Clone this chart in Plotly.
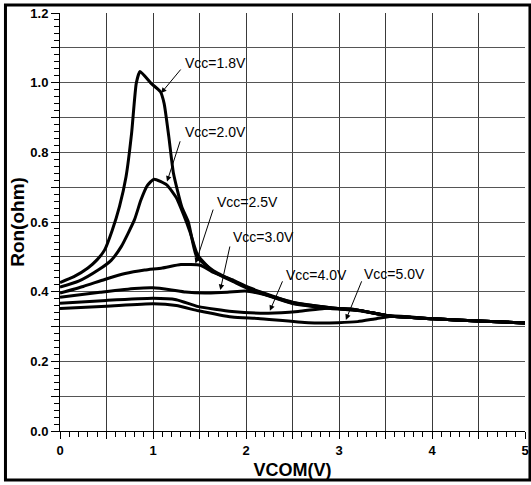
import plotly.graph_objects as go

# ---- data ----
v18_x = [0, 0.15, 0.3, 0.4, 0.48, 0.56, 0.64, 0.71, 0.77, 0.82, 0.86, 0.98, 1.08, 1.12, 1.17, 1.22, 1.31, 1.38, 1.47, 1.65, 1.87, 2.03, 2.5, 2.91, 3.2, 3.55, 4.02, 4.5, 5.0]
v18_y = [0.426, 0.443, 0.468, 0.492, 0.52, 0.575, 0.645, 0.73, 0.855, 0.998, 1.032, 0.998, 0.974, 0.94, 0.845, 0.74, 0.643, 0.60, 0.50, 0.46, 0.43, 0.41, 0.367, 0.353, 0.347, 0.33, 0.322, 0.316, 0.31]

v20_x = [0, 0.2, 0.41, 0.55, 0.66, 0.8, 0.87, 0.94, 1.01, 1.15, 1.25, 1.33, 1.40, 1.48, 1.65, 1.87, 2.03, 2.5, 2.91, 3.2, 3.55, 4.02, 4.5, 5.0]
v20_y = [0.413, 0.43, 0.462, 0.49, 0.53, 0.606, 0.663, 0.705, 0.723, 0.706, 0.67, 0.62, 0.57, 0.505, 0.457, 0.428, 0.408, 0.366, 0.352, 0.346, 0.33, 0.322, 0.316, 0.31]

v25_x = [0, 0.25, 0.48, 0.7, 0.91, 1.1, 1.30, 1.51, 1.65, 1.87, 2.03, 2.5, 2.91, 3.2, 3.55, 4.02, 4.5, 5.0]
v25_y = [0.396, 0.415, 0.435, 0.452, 0.462, 0.468, 0.478, 0.476, 0.455, 0.432, 0.412, 0.369, 0.354, 0.347, 0.33, 0.322, 0.316, 0.31]

v30_x = [0, 0.43, 0.8, 1.0, 1.2, 1.35, 1.56, 1.8, 1.99, 2.2, 2.5, 2.91, 3.2, 3.55, 4.02, 4.5, 5.0]
v30_y = [0.384, 0.398, 0.409, 0.411, 0.405, 0.399, 0.396, 0.398, 0.402, 0.392, 0.37, 0.354, 0.347, 0.33, 0.322, 0.316, 0.31]

v40_x = [0, 0.5, 1.0, 1.25, 1.49, 1.85, 2.24, 2.56, 2.84, 3.0, 3.12, 3.35, 3.55, 4.02, 4.5, 5.0]
v40_y = [0.367, 0.375, 0.381, 0.377, 0.357, 0.343, 0.338, 0.343, 0.352, 0.352, 0.351, 0.34, 0.33, 0.322, 0.316, 0.31]

v50_x = [0, 0.5, 1.0, 1.25, 1.49, 1.85, 2.13, 2.67, 2.99, 3.2, 3.41, 3.6, 4.02, 4.5, 5.0]
v50_y = [0.352, 0.358, 0.365, 0.36, 0.345, 0.327, 0.323, 0.311, 0.311, 0.314, 0.323, 0.33, 0.322, 0.316, 0.31]

series_names = ["Vcc=1.8V", "Vcc=2.0V", "Vcc=2.5V", "Vcc=3.0V", "Vcc=4.0V", "Vcc=5.0V"]
series_x = [v18_x, v20_x, v25_x, v30_x, v40_x, v50_x]
series_y = [v18_y, v20_y, v25_y, v30_y, v40_y, v50_y]

# label positions (text left/center) and arrow tail/head (data units)
label_pos = [(1.32, 1.056), (1.32, 0.859), (1.663, 0.658), (1.837, 0.556), (2.409, 0.448), (3.25, 0.450)]
arrow_tail = [(1.311, 1.042), (1.297, 0.836), (1.652, 0.640), (1.83, 0.534), (2.399, 0.434), (3.25, 0.434)]
arrow_head = [(1.087, 0.970), (1.151, 0.716), (1.457, 0.481), (1.724, 0.405), (2.257, 0.345), (3.074, 0.319)]

x_tick_vals = [0, 0.5, 1, 1.5, 2, 2.5, 3, 3.5, 4, 4.5, 5]
x_tick_text = ["0", "", "1", "", "2", "", "3", "", "4", "", "5"]
y_tick_vals = [0.0, 0.1, 0.2, 0.3, 0.4, 0.5, 0.6, 0.7, 0.8, 0.9, 1.0, 1.1, 1.2]
y_tick_text = ["0.0", "", "0.2", "", "0.4", "", "0.6", "", "0.8", "", "1.0", "", "1.2"]

fig = go.Figure()
for nm, xs, ys in zip(series_names, series_x, series_y):
    fig.add_trace(go.Scatter(x=xs, y=ys, mode="lines", name=nm,
                             line=dict(color="black", width=3, shape="spline", smoothing=0.5),
                             showlegend=False, hoverinfo="skip"))

for nm, (lx, ly), (tx, ty), (hx, hy) in zip(series_names, label_pos, arrow_tail, arrow_head):
    fig.add_annotation(x=lx, y=ly, xref="x", yref="y", text=nm, showarrow=False,
                       xanchor="left", yanchor="middle",
                       font=dict(family="Liberation Sans, Arial", size=14, color="black"))
    fig.add_annotation(x=hx, y=hy, ax=tx, ay=ty, xref="x", yref="y", axref="x", ayref="y",
                       text="", showarrow=True, arrowhead=2, arrowsize=1.1, arrowwidth=1,
                       arrowcolor="black", standoff=0, startstandoff=0)

W0, H0 = 469.0, 418.0
def px_x(p):
    return (p - 60) / W0
def px_y(p):
    return (431 - p) / H0

fig.add_shape(type="rect", xref="paper", yref="paper",
              x0=px_x(5), x1=px_x(534), y0=px_y(480), y1=px_y(5),
              line=dict(color="black", width=3), fillcolor="rgba(0,0,0,0)", layer="above")

tickfont = dict(family="Liberation Sans, Arial", size=13, color="black")
fig.update_layout(
    width=531, height=485,
    margin=dict(l=60, r=2, t=13, b=54),
    paper_bgcolor="white", plot_bgcolor="white",
    xaxis=dict(range=[0, 5], tickvals=x_tick_vals,
               ticktext=["<b>%s</b>" % t if t else "" for t in x_tick_text],
               showgrid=True, gridcolor="#3a3a3a", gridwidth=1,
               showline=True, linecolor="black", linewidth=1,
               ticks="outside", ticklen=7, tickcolor="black",
               minor=dict(dtick=0.1, ticks="outside", ticklen=5, tickcolor="black", showgrid=False),
               tickfont=tickfont, zeroline=False, ticklabeloverflow="allow",
               title=dict(text="<b>VCOM(V)</b>", standoff=6,
                          font=dict(family="Liberation Sans, Arial", size=18, color="black"))),
    yaxis=dict(range=[0, 1.2], tickvals=y_tick_vals,
               ticktext=["<b>%s</b>" % t if t else "" for t in y_tick_text],
               showgrid=True, gridcolor="#555555", gridwidth=1,
               showline=True, linecolor="black", linewidth=1,
               ticks="outside", ticklen=8, tickcolor="black",
               minor=dict(dtick=0.02, ticks="outside", ticklen=5, tickcolor="black", showgrid=False),
               tickfont=tickfont, zeroline=False, ticklabeloverflow="allow",
               title=dict(text="<b>Ron(ohm)</b>", standoff=0,
                          font=dict(family="Liberation Sans, Arial", size=19, color="black"))),
)

fig.write_html("out.html", config={"displayModeBar": False},
               post_script="document.body.style.margin='0';document.body.style.padding='0';")
